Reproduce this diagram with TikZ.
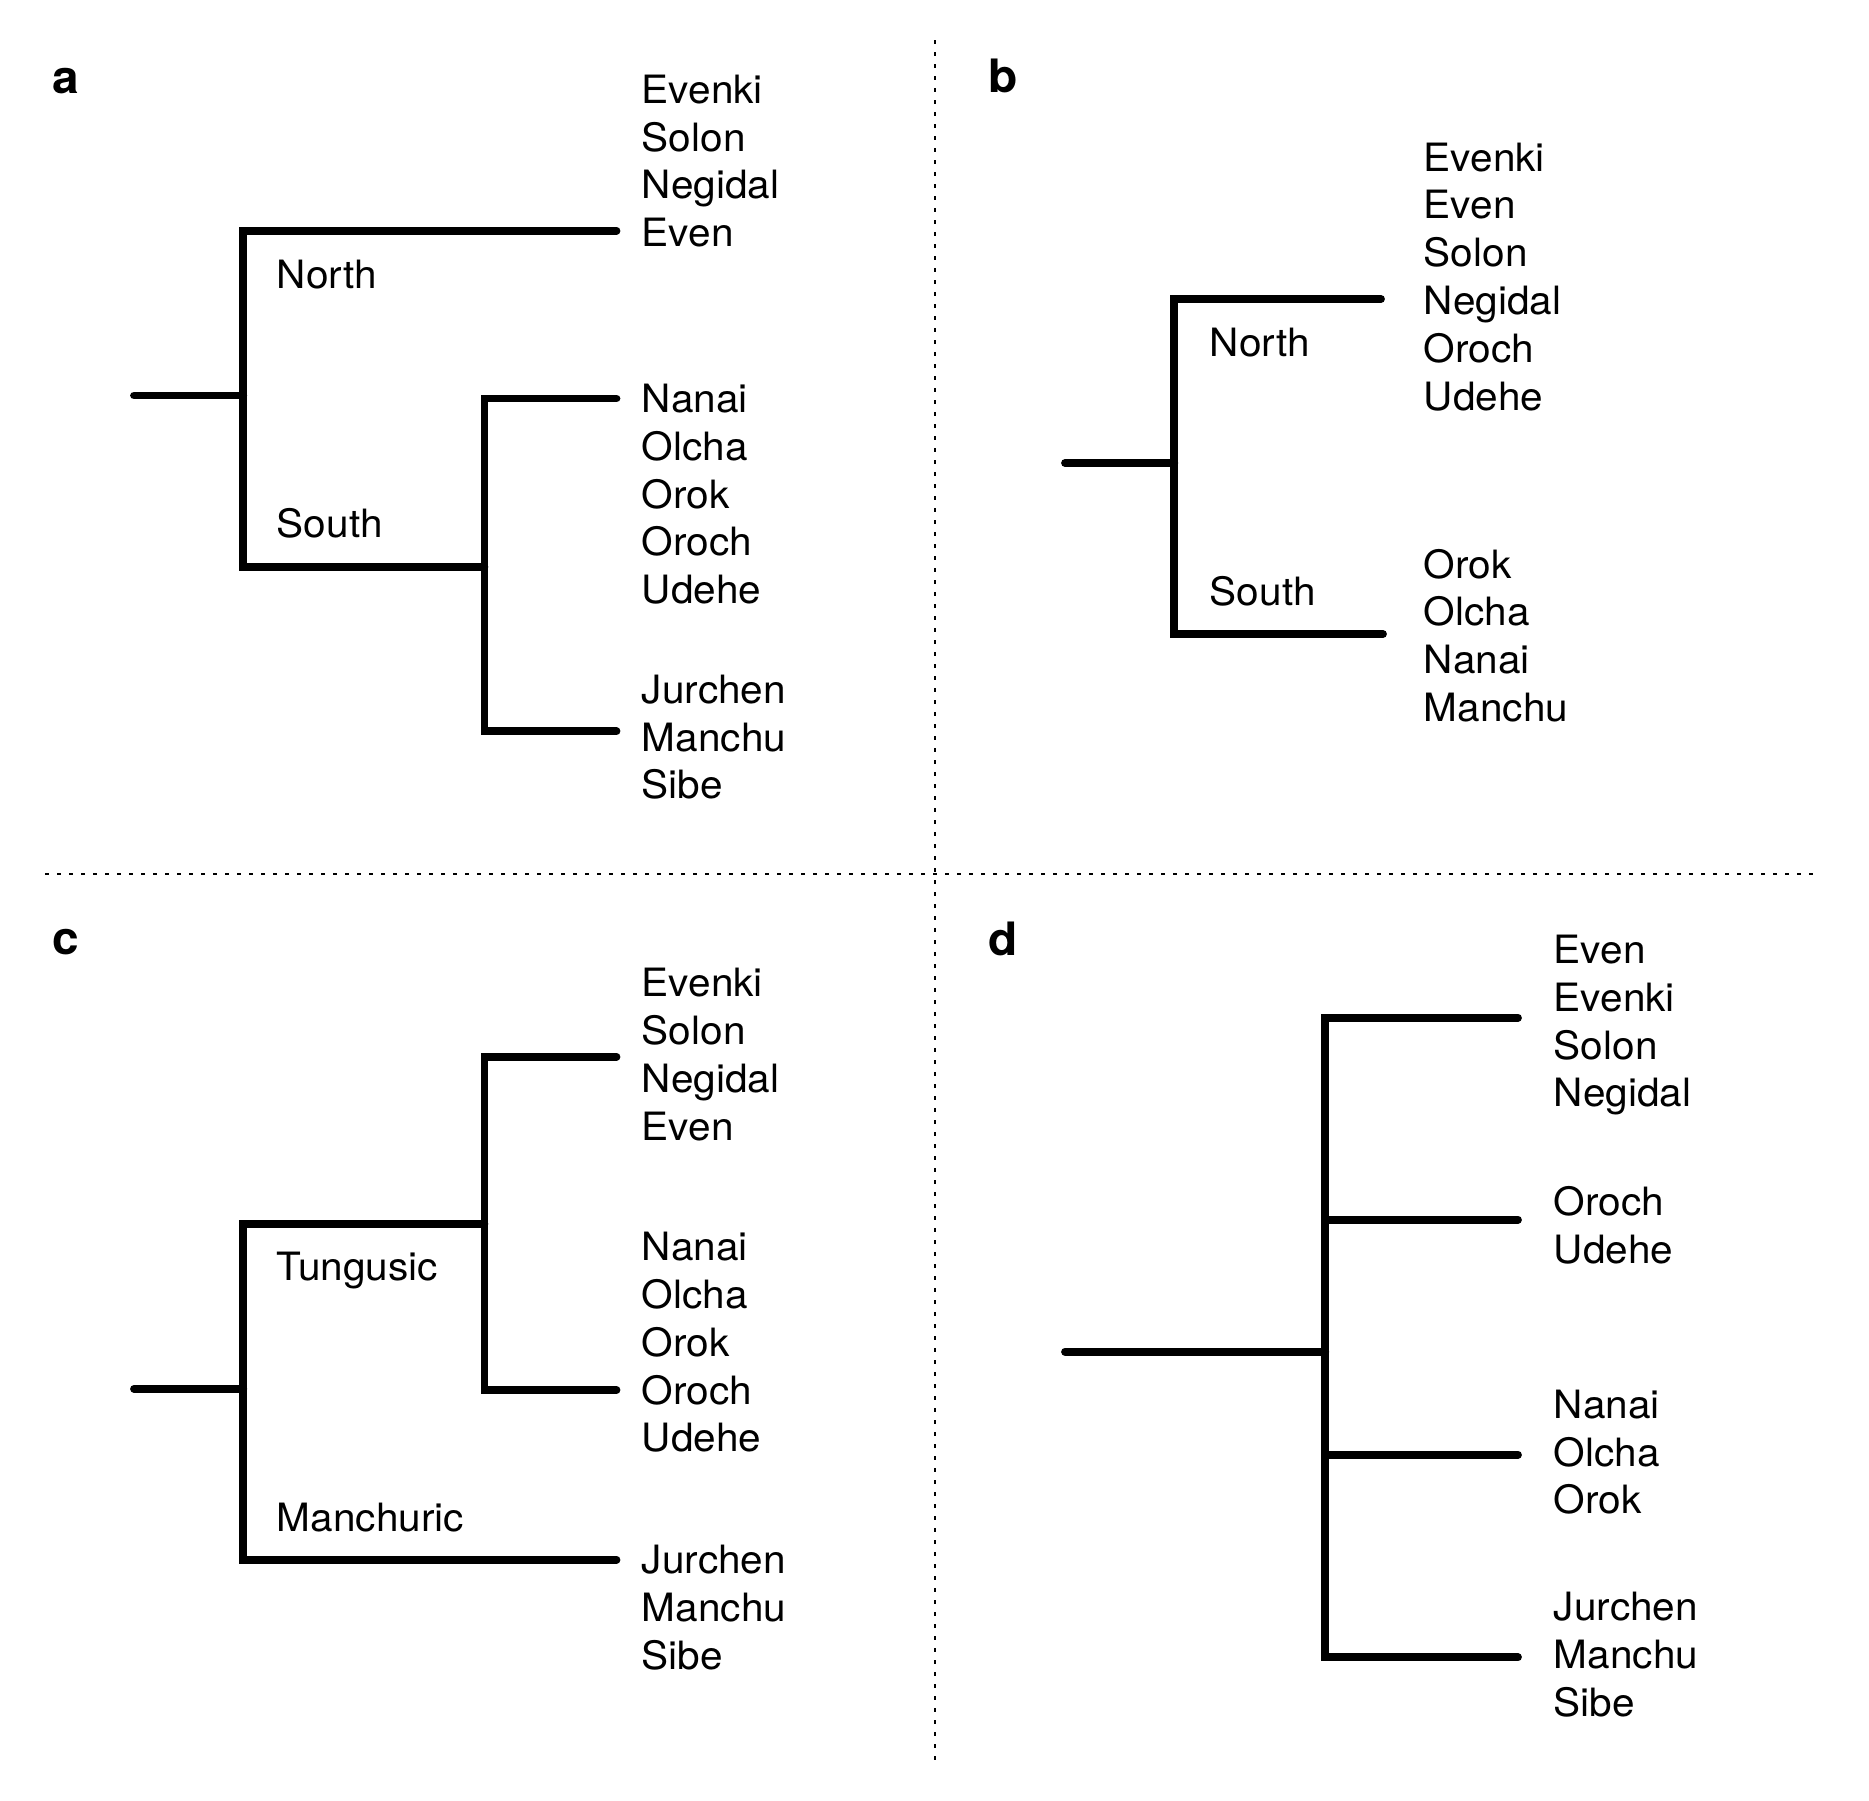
\documentclass[tikz,border=0pt]{standalone}
\usepackage{fontspec}
\setmainfont[FakeStretch=1.04]{TeX Gyre Heros}
\tikzset{
  tree/.style={line width=3.9pt, line cap=round, line join=miter},
  sepline/.style={line width=1pt, dash pattern=on 2pt off 4pt},
  taxon/.style={anchor=base west, inner sep=0pt, font=\fontsize{19.5}{23.4}\selectfont},
  clade/.style={anchor=base west, inner sep=0pt, font=\fontsize{19.5}{23.4}\selectfont},
  panel/.style={anchor=base west, inner sep=0pt, font=\fontsize{23}{27}\selectfont\bfseries},
}
\newcommand\taxgroup[4]{%
  \foreach \t [count=\i] in {#4} {\node[taxon] (#1-\i) at (#2,{#3+47.8*(\i-1)}) {\t};}}
\begin{document}
\begin{tikzpicture}[x=0.5pt,y=-0.5pt]
\useasboundingbox (0,0) rectangle (1869,1800);
% separators
\coordinate (vtop) at (934.7,40);
\coordinate (vbot) at (934.7,1765);
\coordinate (hl) at (45,874);
\coordinate (hr) at (1817,874);
\draw[sepline] (vtop) -- (vbot);
\draw[sepline] (hl) -- (hr);

% panel labels
\node[panel] (la) at (52.5,93) {a};
\node[panel] (lb) at (988.5,92.6) {b};
\node[panel] (lc) at (52.5,954.7) {c};
\node[panel] (ld) at (988.5,955) {d};

% ---------- panel a ----------
\coordinate (aR) at (134,395.5);
\coordinate (aJ) at (243.3,395.5);
\coordinate (aN) at (616.5,230.7);
\coordinate (aS) at (484.4,566.8);
\coordinate (aNa) at (616.5,398.5);
\coordinate (aJu) at (616.5,731.2);
\draw[tree] (aR) -- (aJ);
\draw[tree] (aN) -| (aJ) |- (aS);
\draw[tree] (aNa) -| (aS) |- (aJu);
\node[clade] (aNorth) at (276.5,288) {North};
\node[clade] (aSouth) at (276.5,537.3) {South};
\taxgroup{a1}{641.5}{103.3}{Evenki,Solon,Negidal,Even}
\taxgroup{a2}{641.5}{412.5}{Nanai,Olcha,Orok,Oroch,Udehe}
\taxgroup{a3}{641.5}{703.2}{Jurchen,Manchu,Sibe}

% ---------- panel b ----------
\coordinate (bR) at (1065,463);
\coordinate (bJ) at (1174.3,463);
\coordinate (bN) at (1381,299);
\coordinate (bS) at (1383,634);
\draw[tree] (bR) -- (bJ);
\draw[tree] (bN) -| (bJ) |- (bS);
\node[clade] (bNorth) at (1209.5,356) {North};
\node[clade] (bSouth) at (1209.5,605.5) {South};
\taxgroup{b1}{1423.5}{171}{Evenki,Even,Solon,Negidal,Oroch,Udehe}
\taxgroup{b2}{1423.5}{578}{Orok,Olcha,Nanai,Manchu}

% ---------- panel c ----------
\coordinate (cR) at (134,1388.8);
\coordinate (cJ) at (243.3,1388.8);
\coordinate (cT) at (484.4,1223.9);
\coordinate (cM) at (616.5,1559.6);
\coordinate (cN) at (616.5,1056.6);
\coordinate (cS) at (616.5,1390);
\draw[tree] (cR) -- (cJ);
\draw[tree] (cT) -| (cJ) |- (cM);
\draw[tree] (cN) -| (cT) |- (cS);
\node[clade] (cTung) at (276.5,1280) {Tungusic};
\node[clade] (cManch) at (276.5,1531) {Manchuric};
\taxgroup{c1}{641.5}{996.9}{Evenki,Solon,Negidal,Even}
\taxgroup{c2}{641.5}{1260.7}{Nanai,Olcha,Orok,Oroch,Udehe}
\taxgroup{c3}{641.5}{1573.5}{Jurchen,Manchu,Sibe}

% ---------- panel d ----------
\coordinate (dR) at (1065,1351.6);
\coordinate (dJ) at (1325.3,1351.6);
\coordinate (dJ1) at (1325.3,1017.7);
\coordinate (dJ2) at (1325.3,1219.7);
\coordinate (dJ3) at (1325.3,1454.7);
\coordinate (dJ4) at (1325.3,1657.3);
\coordinate (dE1) at (1518,1017.7);
\coordinate (dE2) at (1518,1219.7);
\coordinate (dE3) at (1518,1454.7);
\coordinate (dE4) at (1518,1657.3);
\draw[tree] (dR) -- (dJ);
\draw[tree] (dE1) -- (dJ1) -- (dJ4) -- (dE4);
\draw[tree] (dJ2) -- (dE2);
\draw[tree] (dJ3) -- (dE3);
\taxgroup{d1}{1553.5}{963.5}{Even,Evenki,Solon,Negidal}
\taxgroup{d2}{1553.5}{1215.7}{Oroch,Udehe}
\taxgroup{d3}{1553.5}{1418.3}{Nanai,Olcha,Orok}
\taxgroup{d4}{1553.5}{1620.4}{Jurchen,Manchu,Sibe}
\end{tikzpicture}
\end{document}
